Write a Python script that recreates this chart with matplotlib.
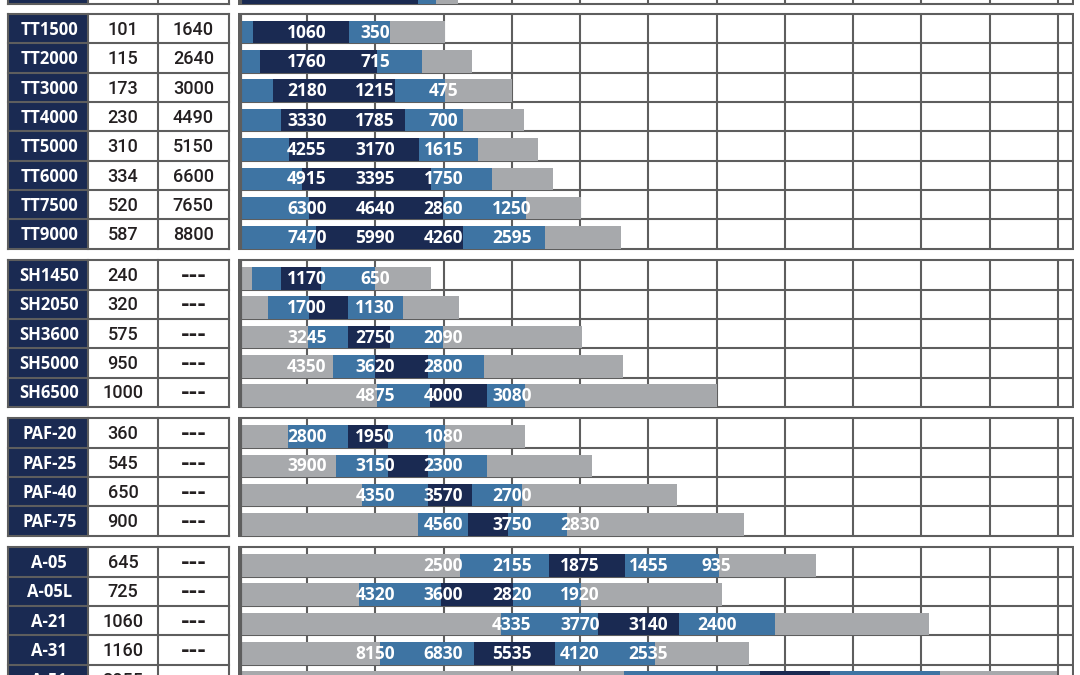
import matplotlib.pyplot as plt
from matplotlib.patches import Rectangle

NAVY = '#1a2a52'
BLUE = '#3e74a3'
GRAY = '#a7a9ac'
LINE = '#5e5e5e'
TEXT = '#231f20'
COLORS = {'n': NAVY, 'b': BLUE, 'g': GRAY}

plt.rcParams['font.family'] = ['Open Sans', 'DejaVu Sans']

# ---- data (x in grid columns) ----
top_names = ['']
top_col2 = ['']
top_col3 = ['']
top_colors = 'nbg'
top_ends = [[2.62, 2.89, 3.21]]
top_label_start = [1]
top_labels = [[]]

tt_names = ['TT1500', 'TT2000', 'TT3000', 'TT4000', 'TT5000', 'TT6000', 'TT7500', 'TT9000']
tt_col2 = ['101', '115', '173', '230', '310', '334', '520', '587']
tt_col3 = ['1640', '2640', '3000', '4490', '5150', '6600', '7650', '8800']
tt_colors = 'bnbg'
tt_ends = [[0.21, 1.62, 2.21, 3.02],
           [0.31, 2.03, 2.68, 3.42],
           [0.50, 2.29, 3.02, 4.01],
           [0.62, 2.44, 3.29, 4.18],
           [0.74, 2.64, 3.51, 4.38],
           [0.93, 2.82, 3.71, 4.60],
           [1.03, 2.99, 4.21, 5.01],
           [1.13, 3.28, 4.49, 5.60]]
tt_label_start = [1, 1, 1, 1, 1, 1, 1, 1]
tt_labels = [[1060, 350],
             [1760, 715],
             [2180, 1215, 475],
             [3330, 1785, 700],
             [4255, 3170, 1615],
             [4915, 3395, 1750],
             [6300, 4640, 2860, 1250],
             [7470, 5990, 4260, 2595]]

sh_names = ['SH1450', 'SH2050', 'SH3600', 'SH5000', 'SH6500']
sh_col2 = ['240', '320', '575', '950', '1000']
sh_col3 = ['---'] * 5
sh_colors = 'gbnbg'
sh_ends = [[0.19, 0.62, 1.20, 2.00, 2.82],
           [0.43, 1.03, 1.60, 2.41, 3.22],
           [1.02, 1.60, 2.22, 2.99, 5.03],
           [1.38, 2.00, 2.78, 3.60, 5.63],
           [2.03, 2.80, 3.64, 4.19, 7.01]]
sh_label_start = [1, 1, 1, 1, 2]
sh_labels = [[1170, 650],
             [1700, 1130],
             [3245, 2750, 2090],
             [4350, 3620, 2800],
             [4875, 4000, 3080]]

paf_names = ['PAF-20', 'PAF-25', 'PAF-40', 'PAF-75']
paf_col2 = ['360', '545', '650', '900']
paf_col3 = ['---'] * 4
paf_colors = 'gbnbg'
paf_ends = [[0.72, 1.60, 2.19, 3.02, 4.19],
            [1.42, 2.19, 2.77, 3.64, 5.17],
            [1.81, 2.77, 3.42, 4.15, 6.42],
            [2.62, 3.36, 3.94, 4.81, 7.40]]
paf_label_start = [1, 1, 2, 3]
paf_labels = [[2800, 1950, 1080],
              [3900, 3150, 2300],
              [4350, 3570, 2700],
              [4560, 3750, 2830]]

a_names = ['A-05', 'A-05L', 'A-21', 'A-31', 'A-51']
a_col2 = ['645', '725', '1060', '1160', '2055']
a_col3 = ['---'] * 5
a_colors = 'gbnbg'
a_ends = [[3.24, 4.55, 5.66, 7.03, 8.46],
          [1.76, 2.96, 4.02, 5.02, 7.08],
          [3.84, 5.26, 6.45, 7.85, 10.11],
          [2.07, 3.44, 4.64, 6.10, 7.47],
          [5.64, 7.63, 8.66, 10.27, 11.99]]
a_label_start = [3, 2, 4, 2, 1]
a_labels = [[2500, 2155, 1875, 1455, 935],
            [4320, 3600, 2820, 1920],
            [4335, 3770, 3140, 2400],
            [8150, 6830, 5535, 4120, 2535],
            []]

sections = [
    (top_names, top_col2, top_col3, top_colors, top_ends, top_label_start, top_labels),
    (tt_names, tt_col2, tt_col3, tt_colors, tt_ends, tt_label_start, tt_labels),
    (sh_names, sh_col2, sh_col3, sh_colors, sh_ends, sh_label_start, sh_labels),
    (paf_names, paf_col2, paf_col3, paf_colors, paf_ends, paf_label_start, paf_labels),
    (a_names, a_col2, a_col3, a_colors, a_ends, a_label_start, a_labels),
]

# ---- layout ----
W, H = 1080, 675
ROW_PX = 29.35
COL_PX = 68.27
X0_PX = 238.7          # pixel of grid column 0
GAP = 0.39             # gap between sections (rows)
y_top = -14 / ROW_PX
y_bot = y_top + H / ROW_PX

section_tops = []
y = -0.34 - len(top_names)
for s in sections:
    section_tops.append(y)
    y = y + len(s[0]) + GAP
    if len(section_tops) == 1:
        y = 0.0

fig = plt.figure(figsize=(W / 100, H / 100), dpi=100)

# table axes (pixel x, row y)
tab = fig.add_axes([0, 0, 1, 1])
tab.set_xlim(0, W)
tab.set_ylim(y_bot, y_top)
tab.axis('off')

# chart axes (grid-column x)
left_px, right_px = 238, 1074
ax = fig.add_axes([left_px / W, 0, (right_px - left_px) / W, 1])
ax.set_xlim((left_px - X0_PX) / COL_PX, (right_px - X0_PX) / COL_PX)
ax.set_ylim(y_bot, y_top)
ax.axis('off')
x_right = (1072.5 - X0_PX) / COL_PX

cx = [8.3, 88.3, 157.7, 229.0]
lw = 1.5

for (names, col2, col3, colors, ends, lstart, labels), top in zip(sections, section_tops):
    n = len(names)
    bottom = top + n
    # ---- left table ----
    for i in range(n):
        rt = top + i
        tab.add_patch(Rectangle((cx[0], rt), cx[1] - cx[0], 1, facecolor=NAVY,
                                edgecolor='none', zorder=1))
        yc = rt + 0.54
        tab.text((cx[0] + cx[1]) / 2 + 1, yc, names[i], color='white', fontsize=12,
                 fontweight='bold', ha='center', va='center', zorder=3)
        tab.text((cx[1] + cx[2]) / 2, yc, col2[i], color=TEXT, fontsize=13,
                 family=['Roboto', 'Open Sans'], fontweight='medium',
                 ha='center', va='center', zorder=3)
        if col3[i] == '---':
            tab.text((cx[2] + cx[3]) / 2, yc, col3[i], color=TEXT, fontsize=15,
                     family='DejaVu Sans', fontweight='bold',
                     ha='center', va='center', zorder=3)
        else:
            tab.text((cx[2] + cx[3]) / 2, yc, col3[i], color=TEXT, fontsize=13,
                     family=['Roboto', 'Open Sans'], fontweight='medium',
                     ha='center', va='center', zorder=3)
    for k in range(n + 1):
        tab.plot([cx[0], cx[3]], [top + k, top + k], color=LINE, lw=lw, zorder=2,
                 solid_capstyle='projecting')
    for xv in cx:
        tab.plot([xv, xv], [top, bottom], color=LINE, lw=lw, zorder=2,
                 solid_capstyle='projecting')

    # ---- chart panel ----
    for k in range(n + 1):
        ax.plot([0, x_right], [top + k, top + k], color=LINE, lw=lw, zorder=1)
    ax.vlines(range(1, 13), top, bottom, color=LINE, lw=lw, zorder=1)
    ax.vlines([x_right], top, bottom, color=LINE, lw=lw, zorder=1)
    ax.vlines([0.025], top, bottom, color=LINE, lw=3.0, zorder=4)

    for i in range(n):
        yc = top + i + 0.615
        start = 0.0
        for c, e in zip(colors, ends[i]):
            ax.barh(yc, e - start, left=start, height=0.77, color=COLORS[c],
                    edgecolor='none', zorder=2)
            start = e
        for j, v in enumerate(labels[i]):
            ax.text(lstart[i] + j, yc + 0.02, str(v), color='white', fontsize=12.5,
                    fontweight='bold', ha='center', va='center', zorder=3)

fig.savefig('out.png', dpi=100)
